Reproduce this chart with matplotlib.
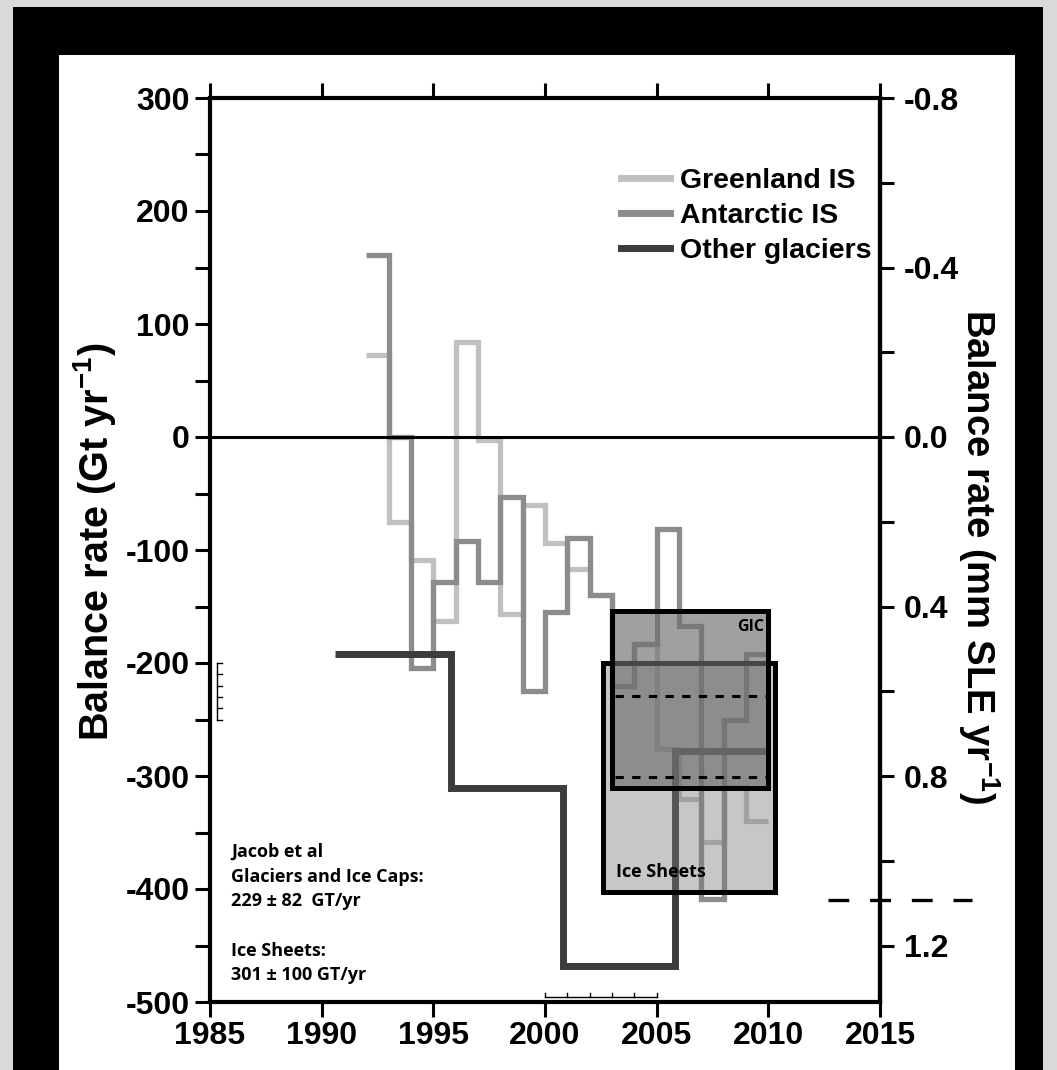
import matplotlib
matplotlib.use('Agg')
import matplotlib.pyplot as plt
from matplotlib.lines import Line2D
from matplotlib.patches import Rectangle
from matplotlib.ticker import MultipleLocator, FixedLocator

plt.rcParams['font.family'] = ['Liberation Sans', 'DejaVu Sans']
plt.rcParams['font.weight'] = 'bold'
plt.rcParams['axes.labelweight'] = 'bold'
plt.rcParams['axes.unicode_minus'] = False
plt.rcParams['mathtext.fontset'] = 'custom'
plt.rcParams['mathtext.bf'] = 'Liberation Sans:bold'
plt.rcParams['mathtext.rm'] = 'Liberation Sans:bold'
plt.rcParams['mathtext.default'] = 'bf'
plt.rcParams['lines.scale_dashes'] = False

# ------------------------------------------------------------------ #
#                            data                                     #
# ------------------------------------------------------------------ #
# yearly balance rates (Gt/yr), one value per year 1992..2009
year_edges = [1992, 1993, 1994, 1995, 1996, 1997, 1998, 1999, 2000, 2001,
              2002, 2003, 2004, 2005, 2006, 2007, 2008, 2009, 2010]
greenland = [73, -75, -109, -163, 84, -3, -157, -60, -94, -117,
             -140, -220, -183, -276, -320, -358, -310, -340]
antarctic = [161, 0, -204, -128, -92, -128, -53, -225, -155, -89,
             -140, -220, -183, -81, -167, -409, -250, -192]

# other glaciers (pentad means)
other_edges = [1990.6, 1995.8, 2000.8, 2005.8, 2010.0]
other = [-192, -311, -468, -278]

# Jacob et al estimates: mean lines and uncertainty boxes
gic_mean = -229
ice_mean = -301
gic_box = [-311, -154]
ice_box = [-403, -200]
gic_years = [2003.0, 2010.0]
ice_years = [2002.6, 2010.3]

series_names = ['Greenland IS', 'Antarctic IS', 'Other glaciers']
series_colors = ['#c0c0c0', '#8c8c8c', '#3c3c3c']

x_ticks = [1985, 1990, 1995, 2000, 2005, 2010, 2015]
y_ticks = [300, 200, 100, 0, -100, -200, -300, -400, -500]
sle_ticks = [-0.8, -0.4, 0.0, 0.4, 0.8, 1.2]
sle_minor = [-0.6, -0.2, 0.2, 0.6, 1.0]
gt_per_mm = 375.0

note_lines = ['Jacob et al', 'Glaciers and Ice Caps:', '229 \u00b1 82  GT/yr',
              'Ice Sheets:', '301 \u00b1 100 GT/yr']
note_y = [-367, -389, -411, -455, -476]

note_font = ['Open Sans', 'DejaVu Sans']

# ------------------------------------------------------------------ #
W, H = 1057, 1070
fig = plt.figure(figsize=(W / 100, H / 100), dpi=100, facecolor='#d9d9d9')
# black frame and white panel behind the chart
fig.add_artist(Rectangle((13 / W, 0), 1030 / W, 1063 / H, transform=fig.transFigure,
                         facecolor='black', edgecolor='none', zorder=-10))
fig.add_artist(Rectangle((59 / W, 0), 956 / W, 1015 / H, transform=fig.transFigure,
                         facecolor='white', edgecolor='none', zorder=-9))

ax = fig.add_axes([210 / W, 68 / H, 670 / W, 904 / H])
ax.patch.set_alpha(0)
ax.set_xlim(1985, 2015)
ax.set_ylim(-500, 300)

ax.stairs(greenland, year_edges, baseline=None, color=series_colors[0], lw=3.8,
          joinstyle='miter', zorder=2)
ax.stairs(antarctic, year_edges, baseline=None, color=series_colors[1], lw=3.8,
          joinstyle='miter', zorder=3)
ax.stairs(other, other_edges, baseline=None, color=series_colors[2], lw=5,
          joinstyle='miter', zorder=4)

ax.axhline(0, color='black', lw=2.2, zorder=4.5)

# uncertainty boxes
ax.add_patch(Rectangle((ice_years[0], ice_box[0]), ice_years[1] - ice_years[0],
                       ice_box[1] - ice_box[0], facecolor=(0.47, 0.47, 0.47, 0.41),
                       edgecolor='black', lw=3.6, zorder=5))
ax.add_patch(Rectangle((gic_years[0], gic_box[0]), gic_years[1] - gic_years[0],
                       gic_box[1] - gic_box[0], facecolor=(0.43, 0.43, 0.43, 0.65),
                       edgecolor='black', lw=3.6, zorder=5.5))
ax.plot([2003.15, 2009.9], [gic_mean, gic_mean], color='black', lw=2.2,
        dashes=(6, 6), zorder=6)
ax.plot([2003.15, 2009.9], [ice_mean, ice_mean], color='black', lw=2.2,
        dashes=(6, 6), zorder=6)
ax.text(2009.8, -168, 'GIC', family=note_font, fontsize=11.5,
        ha='right', va='center', zorder=7)
ax.text(2003.2, -385, 'Ice Sheets', family=note_font, fontsize=13,
        ha='left', va='center', zorder=7)

# dashed marker line outside the right axis
ax.plot([2012.67, 2019.1], [-410, -410], color='black', lw=2.4, dashes=(15, 15),
        clip_on=False, zorder=6)

# small rulers
ax.plot([1985.3, 1985.3], [-200, -250], color='black', lw=1.0, clip_on=False)
for v in range(-200, -251, -10):
    ax.plot([1985.3, 1985.55], [v, v], color='black', lw=1.0)
ax.plot([2000, 2005], [-496, -496], color='black', lw=1.0)
for yr in range(2000, 2006):
    ax.plot([yr, yr], [-496, -492], color='black', lw=1.0)

for txt, yv in zip(note_lines, note_y):
    ax.text(1985.95, yv, txt, family=note_font, fontsize=13,
            ha='left', va='center')

# legend
handles = [Line2D([], [], color=c, lw=5) for c in series_colors]
ax.legend(handles, series_names, loc='upper right', bbox_to_anchor=(0.987, 0.923),
          frameon=False, fontsize=20.5, handlelength=1.75, handletextpad=0.33,
          labelspacing=0.33, borderpad=0, borderaxespad=0)

# axes styling
for s in ax.spines.values():
    s.set_linewidth(3)
ax.set_xticks(x_ticks)
ax.set_xticklabels([str(t) for t in x_ticks])
ax.set_yticks(y_ticks)
ax.set_yticklabels([str(t) for t in y_ticks])
ax.yaxis.set_minor_locator(MultipleLocator(50))
ax.tick_params(axis='both', which='both', direction='out', length=11, width=2.2,
               labelsize=23, top=True, right=False)
ax.tick_params(axis='y', pad=3.5)
ax.tick_params(axis='x', pad=3)
ax.set_ylabel(r'Balance rate (Gt yr$^{-1}$)', fontsize=28.5, fontweight='bold',
              va='center')
ax.yaxis.set_label_coords(-0.173, 0.509)

ax2 = ax.twinx()
ax2.set_ylim(500 / gt_per_mm, -300 / gt_per_mm)
ax2.spines['right'].set_linewidth(3)
ax2.yaxis.set_major_locator(FixedLocator(sle_ticks))
ax2.set_yticklabels(['%.1f' % t for t in sle_ticks])
ax2.yaxis.set_minor_locator(FixedLocator(sle_minor))
ax2.tick_params(axis='y', which='both', direction='out', length=10, width=2.2,
                labelsize=23, pad=7)
ax2.set_ylabel(r'Balance rate (mm SLE yr$^{-1}$)', fontsize=27.5, fontweight='bold',
               rotation=270, va='center')
ax2.yaxis.set_label_coords(1.148, 0.493)

fig.savefig('out.png', dpi=100, facecolor=fig.get_facecolor())
